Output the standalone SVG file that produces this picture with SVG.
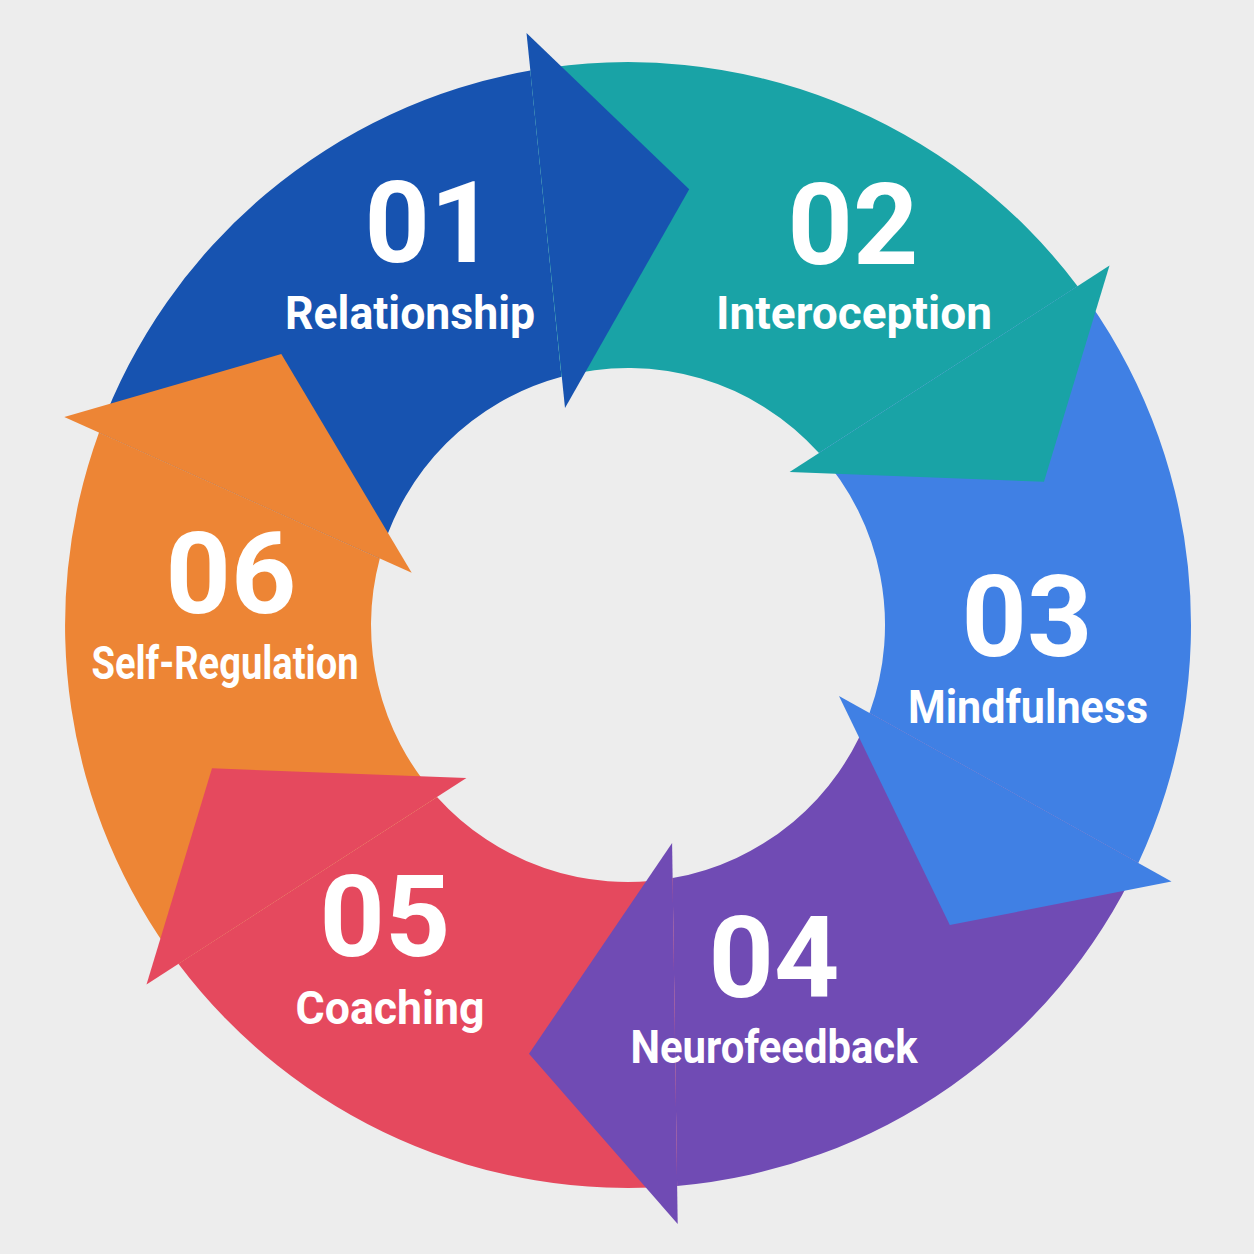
<svg xmlns="http://www.w3.org/2000/svg" width="1254" height="1254" viewBox="0 0 1254 1254">
<style>
.n{font-family:Roboto,"Liberation Sans",sans-serif;font-weight:700;font-size:114px;fill:#fff;text-anchor:middle}
.l{font-family:Roboto,"Liberation Sans",sans-serif;font-weight:700;font-size:46px;fill:#fff;text-anchor:middle}
.c1{fill:#1753B0}.c2{fill:#19A3A6}.c3{fill:#4080E4}.c4{fill:#704BB4}.c5{fill:#E5495E}.c6{fill:#ED8535}
</style>
<rect width="1254" height="1254" fill="#EDEDED"/>
<g id="bodies">
<path class="c1" d="M99,432.5 A563,563 0 0 1 530.3,70.6 L561.5,376.8 A257,257 0 0 0 379.8,558.5 Z"/>
<path class="c2" d="M530.3,70.6 A563,563 0 0 1 1077.6,286.2 L819,453 A257,257 0 0 0 561.5,376.8 Z"/>
<path class="c3" d="M1077.6,286.2 A563,563 0 0 1 1138.3,862.9 L869.5,712.9 A257,257 0 0 0 819,453 Z"/>
<path class="c4" d="M1138.3,862.9 A563,563 0 0 1 677.1,1185.9 L672.6,878.1 A257,257 0 0 0 869.5,712.9 Z"/>
<path class="c5" d="M677.1,1185.9 A563,563 0 0 1 178.4,963.8 L437,797 A257,257 0 0 0 672.6,878.1 Z"/>
<path class="c6" d="M178.4,963.8 A563,563 0 0 1 99,432.5 L379.8,558.5 A257,257 0 0 0 437,797 Z"/>
</g>
<g id="connectors">
<polygon class="c1" points="526.5,33 689.2,189.3 565,408"/>
<polygon class="c2" points="1109.5,265.6 1044,481.7 789.6,472"/>
<polygon class="c3" points="1171.5,881.4 949.8,925.1 839,695.9"/>
<polygon class="c4" points="677.7,1223.9 529,1053.7 672.1,843.1"/>
<polygon class="c5" points="146.5,984.4 212,768.3 466.4,778"/>
<polygon class="c6" points="64.3,417 281.3,354.1 411.7,572.8"/>
</g>
<g id="n01"><text class="n" x="430" y="262">01</text><text class="l" x="410" y="329" textLength="250" lengthAdjust="spacingAndGlyphs">Relationship</text></g>
<g id="n02"><text class="n" x="853" y="264">02</text><text class="l" x="854" y="329" textLength="276" lengthAdjust="spacingAndGlyphs">Interoception</text></g>
<g id="n03"><text class="n" x="1027" y="656">03</text><text class="l" x="1028" y="723" textLength="240" lengthAdjust="spacingAndGlyphs">Mindfulness</text></g>
<g id="n04"><text class="n" x="774" y="997">04</text><text class="l" x="774" y="1063" textLength="287" lengthAdjust="spacingAndGlyphs">Neurofeedback</text></g>
<g id="n05"><text class="n" x="385" y="956">05</text><text class="l" x="390" y="1024" textLength="189" lengthAdjust="spacingAndGlyphs">Coaching</text></g>
<g id="n06"><text class="n" x="231" y="613">06</text><text class="l" x="225" y="679" textLength="267" lengthAdjust="spacingAndGlyphs">Self-Regulation</text></g>
</svg>
